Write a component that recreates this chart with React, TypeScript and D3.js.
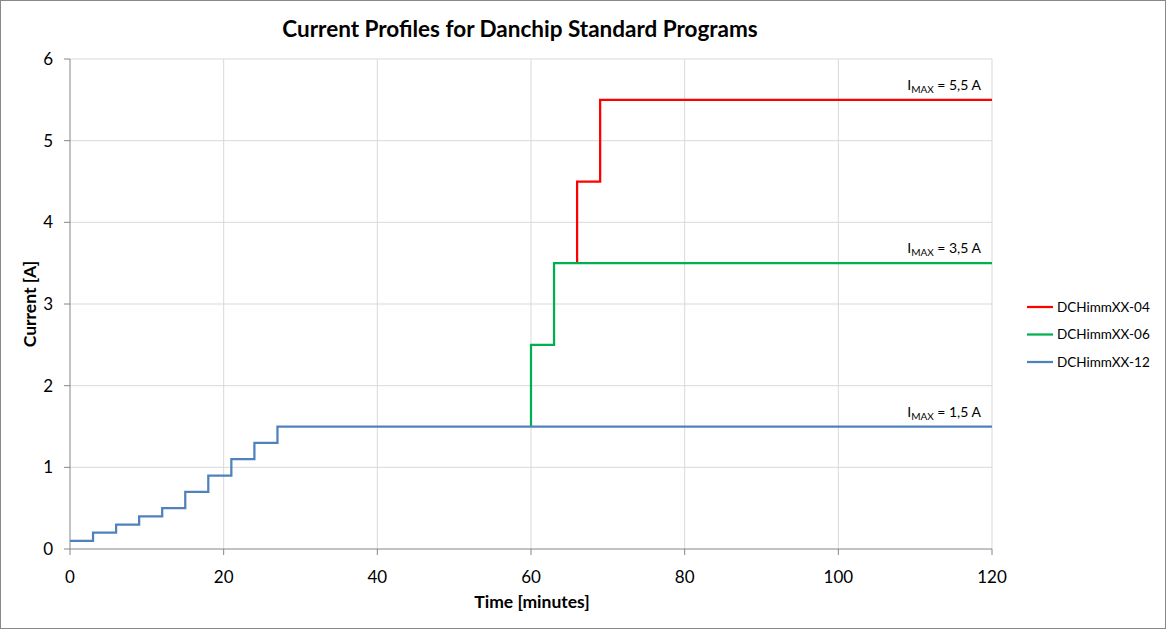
import * as d3 from 'd3';
import React from 'react';

const W = 1166;
const H = 629;
const FONT = 'Lato, "Open Sans", sans-serif';

const xTicks = [0, 20, 40, 60, 80, 100, 120];
const yTicks = [0, 1, 2, 3, 4, 5, 6];

// step start times (minutes) and currents (A)
const time12 = [0, 3, 6, 9, 12, 15, 18, 21, 24, 27, 120];
const current12 = [0.1, 0.2, 0.3, 0.4, 0.5, 0.7, 0.9, 1.1, 1.3, 1.5, 1.5];
const time06 = [60, 60, 63, 120];
const current06 = [1.5, 2.5, 3.5, 3.5];
const time04 = [66, 66, 69, 120];
const current04 = [3.5, 4.5, 5.5, 5.5];

const seriesNames = ['DCHimmXX-04', 'DCHimmXX-06', 'DCHimmXX-12'];
const seriesColors = ['#FF0000', '#00B050', '#4F81BD'];
const maxLabels = ['5,5 A', '3,5 A', '1,5 A'];
const maxValues = [5.5, 3.5, 1.5];

const margin = { left: 70, right: 174, top: 59, bottom: 80 };

export default function App() {
  const x = d3.scaleLinear().domain([0, 120]).range([margin.left, W - margin.right]);
  const y = d3.scaleLinear().domain([0, 6]).range([H - margin.bottom, margin.top]);

  const line = d3
    .line<[number, number]>()
    .x((d) => x(d[0]))
    .y((d) => y(d[1]))
    .curve(d3.curveStepAfter);

  const series = [
    { t: time04, v: current04 },
    { t: time06, v: current06 },
    { t: time12, v: current12 },
  ];

  const x0 = x(0);
  const x1 = x(120);
  const y0 = y(0);
  const y1 = y(6);

  return (
    <svg
      width={W}
      height={H}
      style={{ position: 'absolute', left: 0, top: 0, background: '#fff' }}
      fontFamily={FONT}
    >
      <rect x={0.5} y={0.5} width={W - 1} height={H - 1} fill="#fff" stroke="#888" />

      {/* grid */}
      {yTicks.slice(1).map((t) => (
        <line key={'gy' + t} x1={x0} x2={x1} y1={y(t)} y2={y(t)} stroke="#D9D9D9" />
      ))}
      {xTicks.slice(1).map((t) => (
        <line key={'gx' + t} x1={x(t)} x2={x(t)} y1={y0} y2={y1} stroke="#D9D9D9" />
      ))}

      {/* axes */}
      <line x1={x0} x2={x0} y1={y0} y2={y1} stroke="#868686" />
      <line x1={x0} x2={x1} y1={y0} y2={y0} stroke="#868686" />
      {yTicks.map((t) => (
        <g key={'ty' + t}>
          <line x1={x0 - 6} x2={x0} y1={y(t)} y2={y(t)} stroke="#868686" />
          <text x={53} y={y(t)} dy="0.35em" textAnchor="end" fontSize={17} fill="#000">
            {t}
          </text>
        </g>
      ))}
      {xTicks.map((t) => (
        <g key={'tx' + t}>
          <line x1={x(t)} x2={x(t)} y1={y0} y2={y0 + 6} stroke="#868686" />
          <text x={x(t)} y={583} textAnchor="middle" fontSize={17} fill="#000">
            {t}
          </text>
        </g>
      ))}

      {/* series */}
      {series.map((s, i) => (
        <path
          key={seriesNames[i]}
          d={line(s.t.map((t, j) => [t, s.v[j]] as [number, number])) || ''}
          fill="none"
          stroke={seriesColors[i]}
          strokeWidth={2.25}
        />
      ))}

      {/* I_MAX annotations */}
      {maxValues.map((v, i) => (
        <text key={'max' + i} x={x1 - 11} y={y(v) - 10} textAnchor="end" fontSize={14} fill="#000">
          I<tspan fontSize={10} dy={3}>MAX</tspan>
          <tspan dy={-3}> = {maxLabels[i]}</tspan>
        </text>
      ))}

      {/* titles */}
      <text x={520} y={37} textAnchor="middle" fontSize={22.5} fontWeight="bold" fill="#000">
        Current Profiles for Danchip Standard Programs
      </text>
      <text x={532} y={608} textAnchor="middle" fontSize={17.5} fontWeight="bold" fill="#000">
        Time [minutes]
      </text>
      <text
        transform={`translate(36, ${(y0 + y1) / 2}) rotate(-90)`}
        textAnchor="middle"
        fontSize={17.5}
        fontWeight="bold"
        fill="#000"
      >
        Current [A]
      </text>

      {/* legend */}
      {seriesNames.map((n, i) => (
        <g key={'lg' + n} transform={`translate(1027, ${307 + i * 27.5})`}>
          <line x1={0} x2={26} y1={0} y2={0} stroke={seriesColors[i]} strokeWidth={2.25} />
          <text x={30} y={0} dy="0.35em" fontSize={13.5} fill="#000">
            {n}
          </text>
        </g>
      ))}
    </svg>
  );
}
